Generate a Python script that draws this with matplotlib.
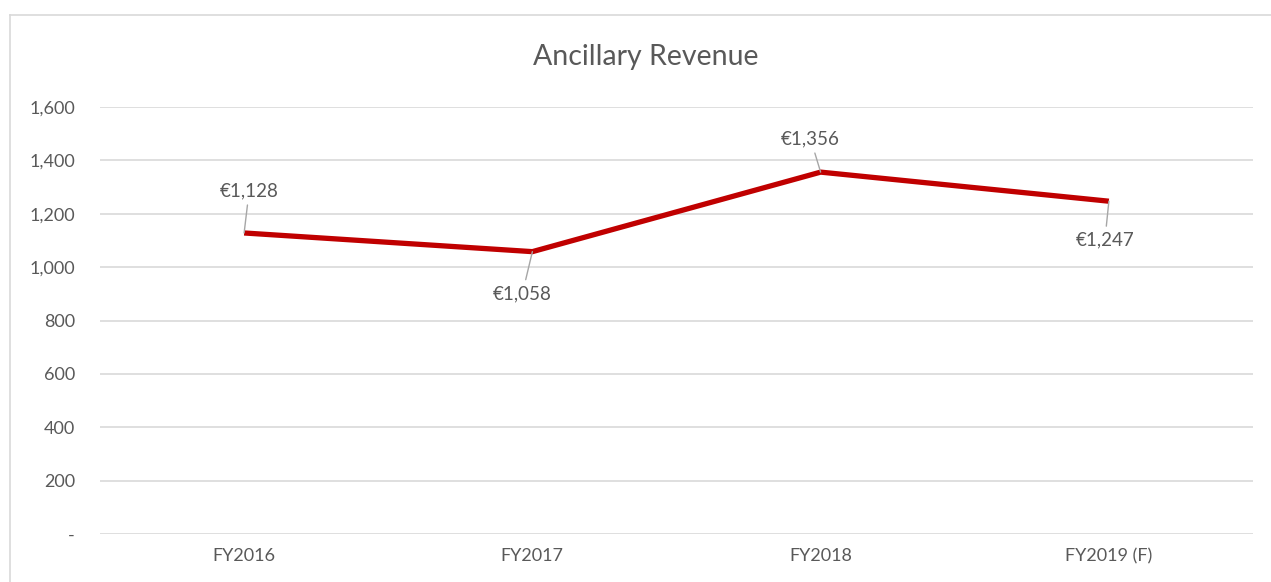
import matplotlib
matplotlib.use("Agg")
import matplotlib.pyplot as plt
from matplotlib.ticker import FuncFormatter
from matplotlib.lines import Line2D

categories = ["FY2016", "FY2017", "FY2018", "FY2019 (F)"]
values = [1128, 1058, 1356, 1247]
labels = ["€1,128", "€1,058", "€1,356", "€1,247"]
label_offsets_px = [(5, 42), (-10, -42), (-10, 33), (-4, -39)]

plt.rcParams['font.family'] = ['Lato', 'DejaVu Sans']
text_color = "#595959"

fig = plt.figure(figsize=(12.71, 5.82), dpi=100)
ax = fig.add_axes([100/1271, 48/582, 1153/1271, 427/582])

x = list(range(len(categories)))
ax.plot(x, values, color="#C00000", lw=3.8, solid_joinstyle="miter", solid_capstyle="butt", zorder=3)

ax.set_xlim(-0.5, len(categories) - 0.5)
ax.set_ylim(0, 1600)
ax.set_yticks(range(0, 1601, 200))
ax.yaxis.set_major_formatter(FuncFormatter(lambda v, p: "-" if v == 0 else f"{int(v):,}"))
ax.set_xticks(x)
ax.set_xticklabels(categories)
ax.grid(axis="y", color="#D9D9D9", lw=1.2)
ax.set_axisbelow(True)
for s in ax.spines.values():
    s.set_visible(False)
ax.tick_params(axis="both", length=0, colors=text_color, labelsize=13)
ax.tick_params(axis="y", pad=18)
ax.tick_params(axis="x", pad=10)

for xi, v, lab, (dx, dy) in zip(x, values, labels, label_offsets_px):
    ax.annotate(lab, xy=(xi, v), xytext=(dx, dy), textcoords="offset pixels",
                ha="center", va="center", fontsize=13.5, color=text_color,
                arrowprops=dict(arrowstyle="-", color="#A6A6A6", lw=1.0,
                                shrinkA=2, shrinkB=0))

fig.text(646/1271, 1 - 57/582, "Ancillary Revenue", ha="center", va="center",
         fontsize=20.5, color=text_color)

# chart frame (top and left edges visible)
fig.add_artist(Line2D([10/1271, 1.0], [1 - 15/582, 1 - 15/582], transform=fig.transFigure, color="#D9D9D9", lw=1.2))
fig.add_artist(Line2D([10/1271, 10/1271], [0, 1 - 15/582], transform=fig.transFigure, color="#D9D9D9", lw=1.2))

fig.savefig("out.png", dpi=100)
